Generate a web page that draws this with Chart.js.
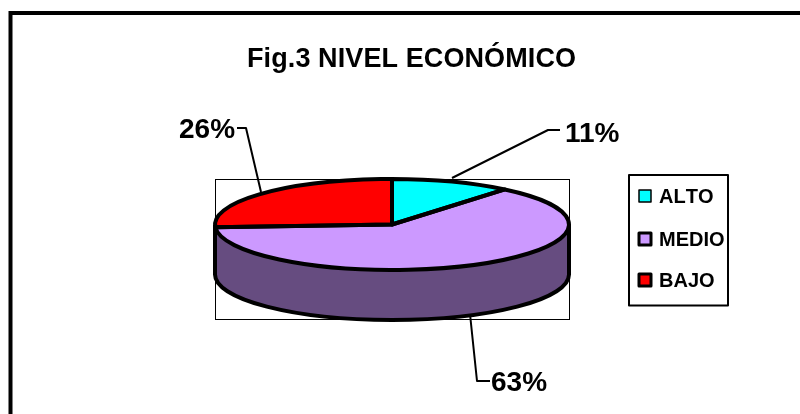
<!DOCTYPE html>
<html>
<head>
<meta charset="utf-8">
<title>Fig.3 NIVEL ECONÓMICO</title>
<script src="https://cdn.jsdelivr.net/npm/chart.js@4"></script>
<style>
    html, body { margin: 0; padding: 0; background: #fff; }
    canvas { display: block; }
</style>
</head>
<body>
<canvas id="chart" width="800" height="414"></canvas>
<script>
// Data
const titleText = 'Fig.3 NIVEL ECONÓMICO';
const categories = ['ALTO', 'MEDIO', 'BAJO'];
const percentages = [11, 63, 26];
const topColors = ['#00FFFF', '#CC99FF', '#FF0000'];
const wallColors = ['#008080', '#664C80', '#800000'];

// Look of the flattened pie
const FONT = '"Liberation Sans", Arial, sans-serif';
const PIE_RADIUS = 177;
const FLATTEN = 0.257;
const DEPTH = 50;
const OUTLINE = 4;

// Leader lines, label anchors, in slice order
const calloutLines = [
    [[452, 178], [548, 130], [560, 130]],
    [[470, 314], [477, 381], [490, 381]],
    [[261, 192], [246, 128], [237, 128]]
];
const calloutText = [[565, 142], [491, 391], [179, 138]];

const legendRows = [196, 239, 280];

function arcsOf(chart) {
    return chart.getDatasetMeta(0).data;
}

function line(ctx, points, width) {
    ctx.beginPath();
    points.forEach((p, i) => i ? ctx.lineTo(p[0], p[1]) : ctx.moveTo(p[0], p[1]));
    ctx.lineWidth = width;
    ctx.strokeStyle = '#000';
    ctx.stroke();
}

const flatPie = {
    id: 'flatPie',
    beforeDatasetsDraw(chart) {
        const ctx = chart.ctx;
        const arcs = arcsOf(chart);
        const first = arcs[0];
        const cx = first.x;
        const cy = first.y;
        const ry = PIE_RADIUS * FLATTEN;

        // Outer frame, only top and left sides exist
        ctx.save();
        line(ctx, [[10.5, 414], [10.5, 13], [800, 13]], 4);

        // Plot area box
        ctx.lineWidth = 1;
        ctx.strokeStyle = '#000';
        ctx.strokeRect(215.5, 179.5, 354, 140);

        // Side wall: the front part of every slice, pushed down
        arcs.forEach((arc, i) => {
            const from = Math.max(arc.startAngle, 0);
            const to = Math.min(arc.endAngle, Math.PI);
            if (to <= from) return;
            ctx.beginPath();
            ctx.ellipse(cx, cy, PIE_RADIUS, ry, 0, from, to);
            ctx.ellipse(cx, cy + DEPTH, PIE_RADIUS, ry, 0, to, from, true);
            ctx.closePath();
            ctx.fillStyle = wallColors[i];
            ctx.fill();
        });
        ctx.beginPath();
        ctx.ellipse(cx, cy + DEPTH, PIE_RADIUS, ry, 0, 0, Math.PI);
        ctx.moveTo(cx - PIE_RADIUS, cy);
        ctx.lineTo(cx - PIE_RADIUS, cy + DEPTH);
        ctx.moveTo(cx + PIE_RADIUS, cy);
        ctx.lineTo(cx + PIE_RADIUS, cy + DEPTH);
        ctx.lineWidth = OUTLINE;
        ctx.strokeStyle = '#000';
        ctx.stroke();
        ctx.restore();

        // Squash the library's round pie into an ellipse
        ctx.save();
        ctx.translate(cx, cy);
        ctx.scale(1, FLATTEN);
        ctx.translate(-cx, -cy);
    },
    afterDatasetsDraw(chart) {
        const ctx = chart.ctx;
        ctx.restore();
        const arcs = arcsOf(chart);
        const ry = PIE_RADIUS * FLATTEN;

        // Outlines drawn outside the transform, so they keep an even width
        ctx.save();
        ctx.lineWidth = OUTLINE;
        ctx.strokeStyle = '#000';
        ctx.lineJoin = 'round';
        arcs.forEach(arc => {
            ctx.beginPath();
            ctx.ellipse(arc.x, arc.y, PIE_RADIUS, ry, 0, arc.startAngle, arc.endAngle);
            ctx.lineTo(arc.x, arc.y);
            ctx.closePath();
            ctx.stroke();
        });

        // Title
        ctx.fillStyle = '#000';
        ctx.textBaseline = 'alphabetic';
        ctx.textAlign = 'left';
        ctx.font = 'bold 27px ' + FONT;
        ctx.letterSpacing = '0.1px';
        ctx.fillText(titleText, 247, 67);
        ctx.letterSpacing = '0px';

        // Callouts
        ctx.font = 'bold 28px ' + FONT;
        percentages.forEach((value, i) => {
            line(ctx, calloutLines[i], 2);
            ctx.fillText(value + '%', calloutText[i][0], calloutText[i][1]);
        });

        // Legend
        ctx.lineWidth = 2;
        ctx.strokeStyle = '#000';
        ctx.strokeRect(629, 175, 99, 130.5);
        ctx.font = 'bold 20px ' + FONT;
        ctx.fontKerning = 'none';
        ctx.textBaseline = 'middle';
        categories.forEach((name, i) => {
            const y = legendRows[i];
            ctx.fillStyle = topColors[i];
            ctx.fillRect(639, y - 6, 12, 12);
            ctx.lineWidth = i ? 3 : 1.5;
            ctx.strokeRect(639, y - 6, 12, 12);
            ctx.fillStyle = '#000';
            ctx.fillText(name, 659, y + 1);
        });
        ctx.restore();
    }
};

new Chart(document.getElementById('chart'), {
    type: 'pie',
    data: {
        labels: categories,
        datasets: [{
            data: percentages,
            backgroundColor: topColors,
            borderWidth: 0,
            radius: PIE_RADIUS,
            clip: false
        }]
    },
    options: {
        responsive: false,
        animation: false,
        // centres the pie on (392, 224.5)
        layout: { padding: { left: 0, right: 16, top: 35, bottom: 0 } },
        plugins: {
            legend: { display: false },
            title: { display: false },
            tooltip: { enabled: false }
        }
    },
    plugins: [flatPie]
});
</script>
</body>
</html>
